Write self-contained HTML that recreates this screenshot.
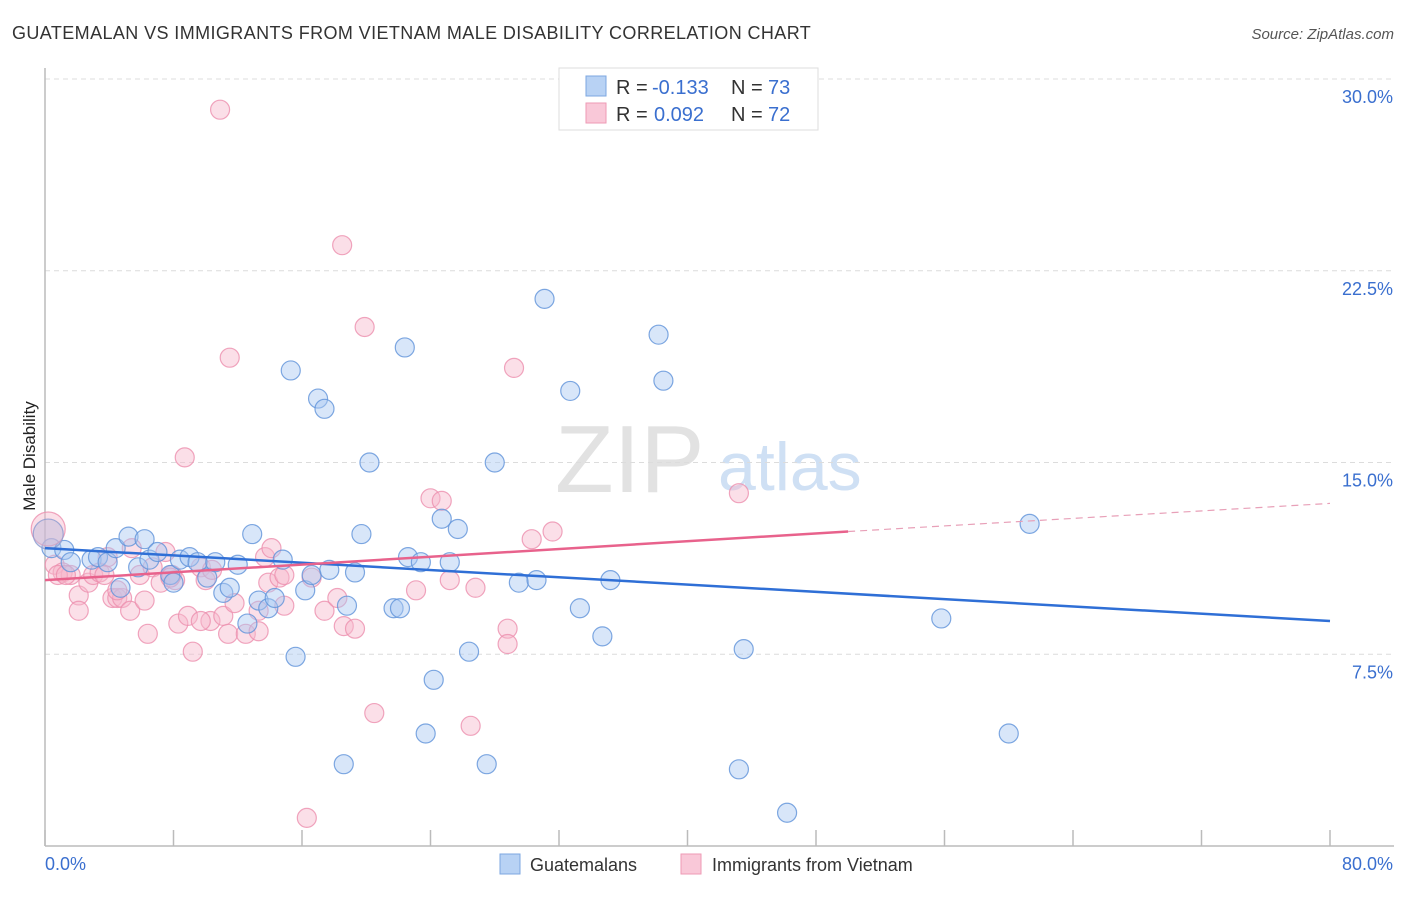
<!DOCTYPE html>
<html><head><meta charset="utf-8">
<style>
body{margin:0;background:#fff;font-family:"Liberation Sans",sans-serif;}
svg text{font-family:"Liberation Sans",sans-serif;}
</style></head>
<body>
<svg id="chart" width="1406" height="892" viewBox="0 0 1406 892" xmlns="http://www.w3.org/2000/svg">
<text x="12" y="39" font-size="18" fill="#333" letter-spacing="0.4">GUATEMALAN VS IMMIGRANTS FROM VIETNAM MALE DISABILITY CORRELATION CHART</text>
<text x="1394" y="39" font-size="15" fill="#555" font-style="italic" text-anchor="end">Source: ZipAtlas.com</text>
<text x="35" y="456" font-size="17" fill="#222" text-anchor="middle" transform="rotate(-90 35 456)">Male Disability</text>
<g>
<text x="555" y="492" font-size="96" fill="#e2e2e2" font-family="Liberation Serif">ZIP</text>
<text x="718" y="490" font-size="68" fill="#cfe0f4">atlas</text>
</g>
<g id="grid"></g>
<g id="axes"></g>
<g id="marks"></g>
<g id="trends"></g>
<g>
<rect x="559" y="68" width="259" height="62" fill="#fff" stroke="#ddd"/>
<rect x="586" y="76" width="20" height="20" fill="#b8d2f4" stroke="#7da7e0"/>
<text x="616" y="94" font-size="20" fill="#333">R =</text>
<text x="652" y="94" font-size="20" fill="#3a6fcf">-0.133</text>
<text x="731" y="94" font-size="20" fill="#333">N =</text>
<text x="768" y="94" font-size="20" fill="#3a6fcf">73</text>
<rect x="586" y="103" width="20" height="20" fill="#f9c8d8" stroke="#ee9ab5"/>
<text x="616" y="121" font-size="20" fill="#333">R =</text>
<text x="654" y="121" font-size="20" fill="#3a6fcf">0.092</text>
<text x="731" y="121" font-size="20" fill="#333">N =</text>
<text x="768" y="121" font-size="20" fill="#3a6fcf">72</text>
</g>
<g>
<rect x="500" y="854" width="20" height="20" fill="#b8d2f4" stroke="#7da7e0"/>
<text x="530" y="871" font-size="18" fill="#333">Guatemalans</text>
<rect x="681" y="854" width="20" height="20" fill="#f9c8d8" stroke="#ee9ab5"/>
<text x="712" y="871" font-size="18" fill="#333">Immigrants from Vietnam</text>
</g>
</svg>
<script>
const yTicks=[7.5,15,22.5,30];
const yTickLabels=["7.5%","15.0%","22.5%","30.0%"];
const xTickValues=[0,8,16,24,32,40,48,56,64,72,80];
const blueX=[0.4,1.2,1.6,2.9,3.3,3.9,4.4,5.2,4.7,5.8,6.2,6.5,7.0,7.8,8.0,8.4,9.0,9.5,10.1,10.6,11.1,11.5,12.0,12.6,12.9,13.3,13.9,14.3,14.8,15.3,15.6,16.2,16.6,17.0,17.4,17.7,18.6,18.8,19.3,19.7,20.2,21.7,22.1,22.4,22.6,23.4,23.7,24.2,24.7,25.2,25.7,26.4,27.5,28.0,29.5,30.6,31.1,32.7,33.3,34.7,35.2,38.2,38.5,43.2,43.5,46.2,55.8,60.0,61.3];
const blueY=[11.65,11.58,11.1,11.2,11.3,11.1,11.65,12.1,10.1,10.9,12.0,11.2,11.5,10.6,10.3,11.2,11.3,11.1,10.5,11.1,9.9,10.1,11.0,8.7,12.2,9.6,9.3,9.7,11.2,18.6,7.4,10.0,10.6,17.5,17.1,10.8,3.2,9.4,10.7,12.2,15.0,9.3,9.3,19.5,11.3,11.1,4.4,6.5,12.8,11.1,12.4,7.6,3.2,15.0,10.3,10.4,21.4,17.8,9.3,8.2,10.4,20.0,18.2,3.0,7.7,1.3,8.9,4.4,12.6];
const pinkX=[0.6,1.1,1.6,2.1,2.1,2.7,3.0,3.4,3.9,4.2,4.5,4.8,5.3,5.4,5.9,6.2,6.4,6.7,7.2,7.5,7.9,8.1,8.3,8.7,8.9,9.2,9.7,10.0,10.3,10.4,10.9,11.1,11.4,11.5,11.8,12.5,13.3,13.7,13.9,14.1,14.6,14.9,16.3,16.6,17.4,18.2,18.5,18.6,19.3,19.9,20.5,23.1,24.0,24.7,25.2,26.5,26.8,28.8,28.8,29.2,30.3,31.6,43.2,0.8,1.3,3.7,4.5,7.8,9.7,13.3,14.9];
const pinkY=[11.0,10.7,10.6,9.8,9.2,10.3,10.6,10.7,11.3,9.7,9.7,9.7,9.2,11.65,10.6,9.6,8.3,10.9,10.3,11.5,10.6,10.4,8.7,15.2,9.0,7.6,10.9,10.4,8.8,10.8,28.8,9.0,8.3,19.1,9.5,8.3,8.4,11.3,10.3,11.65,10.5,9.4,1.1,10.5,9.2,9.7,23.5,8.6,8.5,20.3,5.2,10.0,13.6,13.5,10.4,4.7,10.1,8.5,7.9,18.7,12.0,12.3,13.8,10.6,10.6,10.6,10.0,10.5,8.8,9.2,10.6];
const bigBlue=[0.2,12.2];
const bigPink=[0.2,12.4];
const blueTrend=[0,11.65,80,8.8];
const pinkTrend=[0,10.4,50,12.3,80,13.4];

const X0=45,X1=1330,Y0=846,Y1=79;
const xs=v=>X0+(v/80)*(X1-X0);
const ys=v=>Y0-(v/30)*(Y0-Y1);
const NS="http://www.w3.org/2000/svg";
function mk(tag,attrs,parent){const e=document.createElementNS(NS,tag);for(const k in attrs)e.setAttribute(k,attrs[k]);parent.appendChild(e);return e;}
const grid=document.getElementById('grid'),axes=document.getElementById('axes'),marks=document.getElementById('marks'),trends=document.getElementById('trends');
yTicks.forEach((t,i)=>{
 const l=mk('line',{x1:X0,x2:1394,y1:ys(t),y2:ys(t),stroke:'#dcdcdc','stroke-dasharray':'5,4'},grid);
 
 
 const tx=mk('text',{x:1393,y:ys(t)+24,'font-size':18,fill:'#3a6fcf','text-anchor':'end'},axes);
 tx.textContent=yTickLabels[i];
 
 
});
const ya=mk('line',{x1:X0,x2:X0,y1:68,y2:Y0,stroke:'#bbb','stroke-width':1.5},axes);


const xa=mk('line',{x1:X0,x2:1394,y1:Y0,y2:Y0,stroke:'#bbb','stroke-width':1.5},axes);


xTickValues.forEach(t=>{
 const l=mk('line',{x1:xs(t),x2:xs(t),y1:Y0-16,y2:Y0,stroke:'#bbb','stroke-width':1.5},axes);
 
 
});
const xl0=mk('text',{x:45,y:870,'font-size':18,fill:'#3a6fcf'},axes);xl0.textContent='0.0%';


const xl1=mk('text',{x:1393,y:870,'font-size':18,fill:'#3a6fcf','text-anchor':'end'},axes);xl1.textContent='80.0%';



function dot(x,y,r,fill,stroke,name){
 const c=mk('circle',{cx:xs(x),cy:ys(y),r:r,fill:fill,'fill-opacity':0.45,stroke:stroke,'stroke-width':1.2,'stroke-opacity':0.8},marks);
 
 
}
pinkX.forEach((x,i)=>dot(x,pinkY[i],9.5,'#f7b7cc','#ec8fae','point-vietnam'));
blueX.forEach((x,i)=>dot(x,blueY[i],9.5,'#a9c8f1','#5f92da','point-guatemalan'));
dot(bigPink[0],bigPink[1],17,'#f7b7cc','#ec8fae','point-vietnam-large');
dot(bigBlue[0],bigBlue[1],15,'#b9b9d9','#8a9ad0','point-guatemalan-large');

const bt=mk('line',{x1:xs(blueTrend[0]),y1:ys(blueTrend[1]),x2:xs(blueTrend[2]),y2:ys(blueTrend[3]),stroke:'#2f6fd6','stroke-width':2.5},trends);


const pt=mk('line',{x1:xs(pinkTrend[0]),y1:ys(pinkTrend[1]),x2:xs(pinkTrend[2]),y2:ys(pinkTrend[3]),stroke:'#e8628c','stroke-width':2.5},trends);


const pd=mk('line',{x1:xs(pinkTrend[2]),y1:ys(pinkTrend[3]),x2:xs(pinkTrend[4]),y2:ys(pinkTrend[5]),stroke:'#e8a0b8','stroke-width':1.2,'stroke-dasharray':'7,5'},trends);


</script>
</body></html>
